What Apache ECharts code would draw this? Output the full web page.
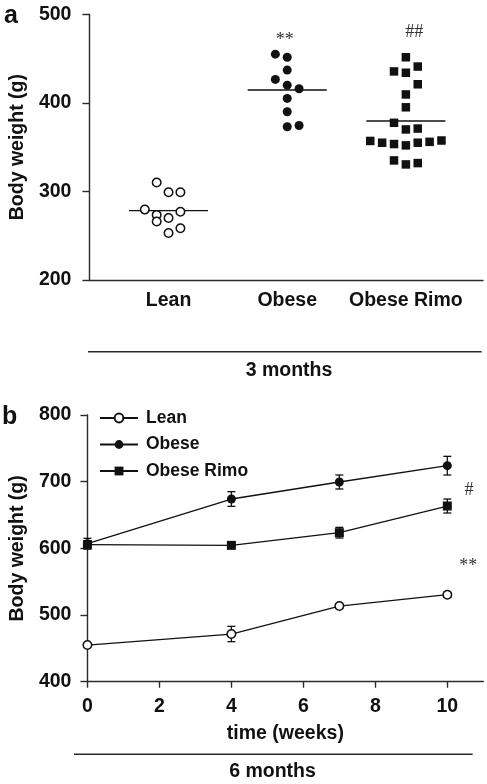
<!DOCTYPE html>
<html><head><meta charset="utf-8">
<script src="https://cdn.jsdelivr.net/npm/echarts@6/dist/echarts.min.js"></script>
<style>html,body{margin:0;padding:0;background:#fff;}#c{width:487px;height:784px;}</style>
</head><body><div id="c"></div>
<script>
// ---------- Panel a: body weight at 3 months ----------
const groups = ['Lean', 'Obese', 'Obese Rimo'];
const leanWeights  = [310, 299, 299, 279.5, 273.5, 266, 270, 277, 258.5, 253];
const leanJitter   = [-0.1, 0, 0.1, -0.2, -0.1, -0.1, 0, 0.1, 0.1, 0];
const obeseWeights = [455, 451.5, 437, 426.5, 420, 416, 405, 390, 373, 374.5];
const obeseJitter  = [-0.1, 0, 0, -0.1, 0, 0.1, 0, 0, 0, 0.1];
const rimoWeights  = [451.5, 435.5, 434, 441, 421, 409.5, 395, 377.5, 370, 371,
                      357, 355, 353.5, 352, 355, 356, 357.5, 335, 330.5, 332];
const rimoJitter   = [0, -0.1, 0, 0.1, 0.1, 0, 0, -0.1, 0, 0.1,
                      -0.3, -0.2, -0.1, 0, 0.1, 0.2, 0.3, -0.1, 0, 0.1];
const groupMedians = [278.3, 414.5, 379.5];
const yTicksA = [200, 300, 400, 500];

// ---------- Panel b: body weight over time (6 months) ----------
const weeks = [0, 4, 7, 10];
const xTicksB = [0, 2, 4, 6, 8, 10];
const yTicksB = [400, 500, 600, 700, 800];
const leanMean  = [455, 471.5, 513.5, 530.5];
const leanSem   = [2, 11.5, 3, 4];
const obeseMean = [607, 674, 699.5, 724];
const obeseSem  = [8, 11, 10.5, 14];
const rimoMean  = [605.5, 604.5, 623.5, 663.5];
const rimoSem   = [6, 4, 8, 10.5];

const FONT = '"Liberation Sans", Arial, Helvetica, sans-serif';
const SERIF = '"Liberation Serif", "Times New Roman", serif';
const INK = '#111';
const AX = '#2a2a2a';
const FS = 19.5;

const chart = echarts.init(document.getElementById('c'), null, {renderer: 'canvas'});

function pts(center, vals, jit) {
  return vals.map((v, i) => [center + jit[i], v]);
}
function errData(x, m, s) {
  return x.map((xv, i) => [xv, m[i] - s[i], m[i] + s[i]]);
}
function errRender(params, api) {
  const x = api.value(0), lo = api.value(1), hi = api.value(2);
  const a = api.coord([x, lo]), b = api.coord([x, hi]);
  const w = 4;
  const st = {stroke: INK, lineWidth: 1.3};
  return {type: 'group', children: [
    {type: 'line', shape: {x1: a[0], y1: a[1], x2: b[0], y2: b[1]}, style: st},
    {type: 'line', shape: {x1: a[0] - w, y1: a[1], x2: a[0] + w, y2: a[1]}, style: st},
    {type: 'line', shape: {x1: b[0] - w, y1: b[1], x2: b[0] + w, y2: b[1]}, style: st}
  ]};
}
function medianRender(params, api) {
  const c = api.value(0), m = api.value(1);
  const a = api.coord([c - 0.333, m]), b = api.coord([c + 0.333, m]);
  return {type: 'line', shape: {x1: a[0], y1: a[1], x2: b[0], y2: b[1]},
          style: {stroke: INK, lineWidth: 1.4}};
}
function sigRender(params, api) {
  const p = api.coord([api.value(0), api.value(1)]);
  return {type: 'text', x: p[0], y: p[1],
          style: {text: sigText[params.seriesName][params.dataIndex], fill: '#333',
                  font: '18px ' + SERIF, textAlign: 'center', textVerticalAlign: 'middle'}};
}
const sigText = {sigA: ['**', '##'], sigB: ['#', '**']};

const axisLineStyle = {lineStyle: {color: AX, width: 1.4}};
const labelStyle = {color: INK, fontFamily: FONT, fontWeight: 'bold', fontSize: FS};

const option = {
  backgroundColor: '#fff',
  animation: false,
  textStyle: {fontFamily: FONT},
  grid: [
    {left: 85, top: 14.3, width: 398, height: 265.7, containLabel: false},
    {left: 84.3, top: 415, width: 399, height: 266.7, containLabel: false}
  ],
  legend: {
    data: ['Lean', 'Obese', 'Obese Rimo'],
    orient: 'vertical', left: 99, top: 409, padding: 0,
    itemWidth: 38, itemHeight: 11, itemGap: 8.5,
    textStyle: {color: INK, fontFamily: FONT, fontWeight: 'bold', fontSize: 17.5, lineHeight: 18, padding: [0, 0, 0, 3]},
    selectedMode: false
  },
  xAxis: [
    {gridIndex: 0, type: 'value', min: 0.3333, max: 3.65,
     axisLine: {show: true, onZero: false, ...axisLineStyle},
     axisTick: {show: false}, splitLine: {show: false},
     axisLabel: {...labelStyle, margin: 11, customValues: [1, 2, 3],
                 formatter: v => groups[Math.round(v) - 1] || ''}},
    {gridIndex: 1, type: 'value', min: 0, max: 11,
     axisLine: {show: true, onZero: false, ...axisLineStyle},
     axisTick: {show: true, inside: false, length: 6, customValues: xTicksB, lineStyle: {color: AX, width: 1.4}},
     splitLine: {show: false},
     axisLabel: {...labelStyle, margin: 15, customValues: xTicksB},
     name: 'time (weeks)', nameLocation: 'middle', nameGap: 42,
     nameTextStyle: {...labelStyle}}
  ],
  yAxis: [
    {gridIndex: 0, type: 'value', min: 200, max: 500, interval: 100,
     axisLine: {show: true, onZero: false, ...axisLineStyle},
     axisTick: {show: true, inside: false, length: 7, lineStyle: {color: AX, width: 1.4}},
     splitLine: {show: false},
     axisLabel: {...labelStyle, margin: 18},
     name: 'Body weight (g)', nameLocation: 'middle', nameGap: 57, nameRotate: 90,
     nameTextStyle: {...labelStyle}},
    {gridIndex: 1, type: 'value', min: 400, max: 800, interval: 100,
     axisLine: {show: true, onZero: false, ...axisLineStyle},
     axisTick: {show: true, inside: false, length: 7, lineStyle: {color: AX, width: 1.4}},
     splitLine: {show: false},
     axisLabel: {...labelStyle, margin: 16},
     name: 'Body weight (g)', nameLocation: 'middle', nameGap: 56, nameRotate: 90,
     nameTextStyle: {...labelStyle}}
  ],
  graphic: [
    {type: 'text', left: 4, top: 4, style: {text: 'a', font: 'bold 25px ' + FONT, fill: INK}},
    {type: 'text', left: 2, top: 405, style: {text: 'b', font: 'bold 25px ' + FONT, fill: INK}},
    {type: 'line', shape: {x1: 88, y1: 351.7, x2: 481.7, y2: 351.7}, style: {stroke: AX, lineWidth: 1.4}},
    {type: 'text', x: 289, y: 371, style: {text: '3 months', font: 'bold ' + FS + 'px ' + FONT, fill: INK, textAlign: 'center', textVerticalAlign: 'middle'}},
    {type: 'line', shape: {x1: 74, y1: 754.3, x2: 472.7, y2: 754.3}, style: {stroke: AX, lineWidth: 1.4}},
    {type: 'text', x: 272.5, y: 772, style: {text: '6 months', font: 'bold ' + FS + 'px ' + FONT, fill: INK, textAlign: 'center', textVerticalAlign: 'middle'}}
  ],
  series: [
    // Panel a
    {name: 'Lean 3m', type: 'scatter', xAxisIndex: 0, yAxisIndex: 0, data: pts(1, leanWeights, leanJitter),
     symbol: 'circle', symbolSize: 8.5, itemStyle: {color: '#fff', borderColor: INK, borderWidth: 1.5, opacity: 1}, z: 5},
    {name: 'Obese 3m', type: 'scatter', xAxisIndex: 0, yAxisIndex: 0, data: pts(2, obeseWeights, obeseJitter),
     symbol: 'circle', symbolSize: 9, itemStyle: {color: INK, opacity: 1}, z: 5},
    {name: 'Rimo 3m', type: 'scatter', xAxisIndex: 0, yAxisIndex: 0, data: pts(3, rimoWeights, rimoJitter),
     symbol: 'rect', symbolSize: 8.5, itemStyle: {color: INK, opacity: 1}, z: 5},
    {name: 'Medians', type: 'custom', xAxisIndex: 0, yAxisIndex: 0, renderItem: medianRender,
     data: groupMedians.map((m, i) => [i + 1, m]), z: 3},
    {name: 'sigA', type: 'custom', xAxisIndex: 0, yAxisIndex: 0, renderItem: sigRender, silent: true,
     data: [[1.98, 471], [3.07, 479.7]], z: 6},
    // Panel b
    {name: 'errLean', type: 'custom', xAxisIndex: 1, yAxisIndex: 1, renderItem: errRender, data: errData(weeks, leanMean, leanSem), z: 2},
    {name: 'errObese', type: 'custom', xAxisIndex: 1, yAxisIndex: 1, renderItem: errRender, data: errData(weeks, obeseMean, obeseSem), z: 2},
    {name: 'errRimo', type: 'custom', xAxisIndex: 1, yAxisIndex: 1, renderItem: errRender, data: errData(weeks, rimoMean, rimoSem), z: 2},
    {name: 'Lean', type: 'line', xAxisIndex: 1, yAxisIndex: 1, data: weeks.map((w, i) => [w, leanMean[i]]),
     symbol: 'circle', symbolSize: 8.5, showSymbol: true,
     lineStyle: {color: INK, width: 1.3}, itemStyle: {color: '#fff', borderColor: INK, borderWidth: 1.5, opacity: 1}, z: 4},
    {name: 'Obese', type: 'line', xAxisIndex: 1, yAxisIndex: 1, data: weeks.map((w, i) => [w, obeseMean[i]]),
     symbol: 'circle', symbolSize: 9, showSymbol: true,
     lineStyle: {color: INK, width: 1.3}, itemStyle: {color: INK, borderColor: INK, borderWidth: 0, opacity: 1}, z: 4},
    {name: 'Obese Rimo', type: 'line', xAxisIndex: 1, yAxisIndex: 1, data: weeks.map((w, i) => [w, rimoMean[i]]),
     symbol: 'rect', symbolSize: 9, showSymbol: true,
     lineStyle: {color: INK, width: 1.3}, itemStyle: {color: INK, borderColor: INK, borderWidth: 0, opacity: 1}, z: 4},
    {name: 'sigB', type: 'custom', xAxisIndex: 1, yAxisIndex: 1, renderItem: sigRender, silent: true,
     data: [[10.6, 687.5], [10.58, 573]], z: 6}
  ]
};
chart.setOption(option);
</script>
</body></html>
